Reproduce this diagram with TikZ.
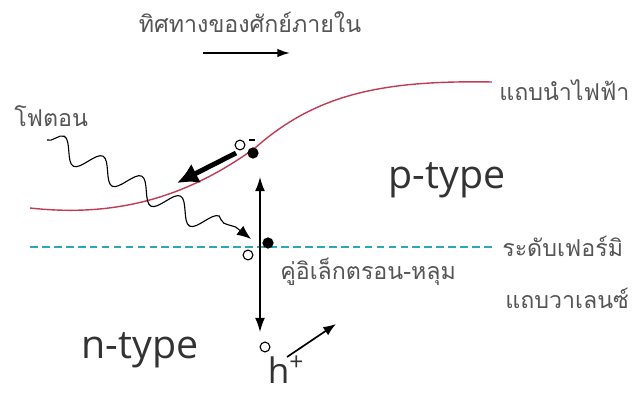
\documentclass[tikz,border=0pt]{standalone}
\usepackage{fontspec}
\setmainfont{Open Sans}
\newfontfamily\thaifont[Script=Thai]{Loma}
\usetikzlibrary{arrows.meta,decorations.pathmorphing,positioning}

\definecolor{bandred}{HTML}{C23B55}
\definecolor{fermiteal}{HTML}{2AA9B3}
\definecolor{labelgray}{HTML}{555555}

\tikzset{
  thailabel/.style={font=\thaifont\fontsize{16.5}{18}\selectfont, text=labelgray, inner sep=0pt},
  typelabel/.style={font=\fontsize{28}{30}\selectfont, text=black!80, inner sep=0pt},
  band/.style={draw=bandred, line width=1pt},
  fermi/.style={draw=fermiteal, line width=1pt, dash pattern=on 5.5pt off 3pt},
  electron/.style={circle, fill=black, inner sep=0pt, minimum size=8pt},
  hole/.style={circle, draw=black, line width=0.8pt, inner sep=0pt, minimum size=7pt},
  photon/.style={decorate, decoration={snake, amplitude=8pt, segment length=31pt, post length=14pt}, line width=0.8pt, -{Latex[length=10pt,width=8pt]}},
}

\begin{document}
\begin{tikzpicture}[x=0.025cm, y=-0.025cm]
\useasboundingbox (0,0) rectangle (635,394);

% direction of the built-in potential
\node[thailabel] (title) at (250,22) {ทิศทางของศักย์ภายใน};
\coordinate (dirL) at (203,53);
\coordinate (dirR) at (290,53);
\draw[line width=1.2pt, -{Latex[length=9pt,width=6pt]}] (dirL) -- (dirR);

% bands
\coordinate (cbL) at (30,208);
\coordinate (cbM) at (255,148);
\coordinate (cbR) at (492,82);
\draw[band] (cbL) .. controls (120,218) and (190,195) .. (cbM)
                  .. controls (315,95) and (380,80) .. (cbR);
\coordinate (efL) at (30,247);
\coordinate (efR) at (495,247);
\draw[fermi] (efL) -- (efR);

\node[thailabel, anchor=west] (cblabel) at (499,90) {แถบนำไฟฟ้า};
\node[thailabel, anchor=west] (eflabel) at (502,246) {ระดับเฟอร์มิ};
\node[thailabel, anchor=west] (vblabel) at (505,298) {แถบวาเลนซ์};

% photon
\node[thailabel, anchor=west] (phlabel) at (14,116) {โฟตอน};
\coordinate (phStart) at (47,140);
\coordinate (phBend) at (214,226);
\coordinate (phEnd) at (251,239);
\draw[photon] (phStart) -- (phBend) .. controls (234,224) .. (phEnd);

% electron-hole pair
\node[electron] (eTop) at (253,153) {};
\node[hole] (hTop) at (240,145) {};
\draw[line width=0.8pt] (249,140) -- (255,140);
\node[electron] (ePair) at (268,243) {};
\node[hole] (hPair) at (248,255) {};
\node[thailabel, anchor=west] (pairlabel) at (280,272) {คู่อิเล็กตรอน-หลุม};

\coordinate (driftA) at (236,153);
\coordinate (driftB) at (177,183);
\draw[line width=3.5pt, -{Latex[length=15pt,width=15pt]}] (driftA) -- (driftB);

\coordinate (sepTop) at (260,177);
\coordinate (sepBot) at (260,332);
\draw[line width=1pt, {Latex[length=10pt,width=7pt]}-{Latex[length=10pt,width=7pt]}] (sepBot) -- (sepTop);

% hole
\node[hole] (hBot) at (265,347) {};
\node[typelabel, font=\fontsize{25}{27}\selectfont] (hlabel) at (286,370) {h\textsuperscript{+}};
\coordinate (hA) at (287,357);
\coordinate (hB) at (336,324);
\draw[line width=1.2pt, -{Latex[length=9pt,width=7pt]}] (hA) -- (hB);

% regions
\node[typelabel] (ptype) at (447,180) {p-type};
\node[typelabel] (ntype) at (140,350) {n-type};
\end{tikzpicture}
\end{document}
